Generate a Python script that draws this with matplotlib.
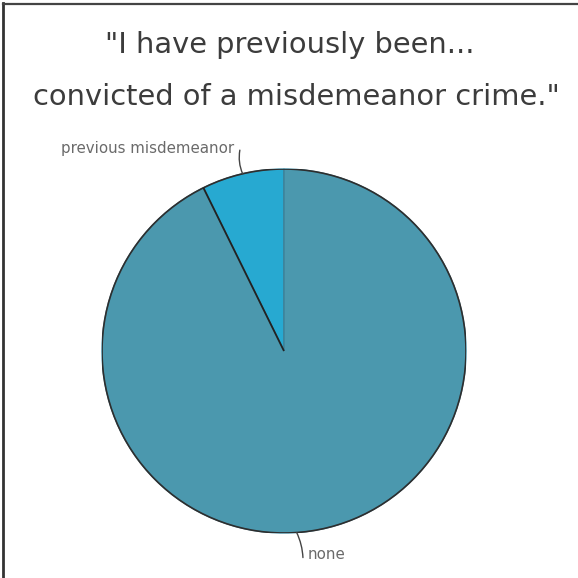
import numpy as np
import matplotlib
matplotlib.use('Agg')
import matplotlib.pyplot as plt

# share of respondents (percent)
labels = ['previous misdemeanor', 'none']
shares = [7.3, 92.7]
colors = ['#27a9d1', '#4b98ae']
title_lines = ['"I have previously been...', 'convicted of a misdemeanor crime."']

W = 578.0
fig = plt.figure(figsize=(5.78, 5.78), dpi=100)
fig.patch.set_facecolor('white')

# pie centred at (284, 351) px, radius 182 px
cx, cy, r = 284.0, 351.0, 182.0
ax = fig.add_axes([(cx - r) / W, (W - cy - r) / W, 2 * r / W, 2 * r / W])
wedges, _ = ax.pie(shares, colors=colors, startangle=90, counterclock=True,
                   radius=1.0,
                   wedgeprops=dict(edgecolor='#3d8299', linewidth=1.0))
ax.set_xlim(-1, 1)
ax.set_ylim(-1, 1)
ax.set_aspect('equal')
ax.axis('off')

# dark rim and dark boundary on the small slice's far side
ax.add_patch(plt.Circle((0, 0), 1.0, fill=False, edgecolor='#2e2e2e', lw=1.2))
a_end = np.deg2rad(90 + shares[0] / 100 * 360)
ax.plot([0, np.cos(a_end)], [0, np.sin(a_end)], color='#222222', lw=1.3,
        solid_capstyle='butt')


def edge(deg, rr=1.0):
    a = np.deg2rad(deg)
    return rr * np.cos(a), rr * np.sin(a)


lab_kw = dict(fontsize=10.8, color='#6a6a6a', textcoords='offset points',
              annotation_clip=False)
line_kw = dict(arrowstyle='-', color='#444444', lw=1.0, shrinkA=0, shrinkB=0)

# leader + label for the small slice
mid0 = 90 + shares[0] / 100 * 360 / 2
p0 = edge(mid0)
ax.annotate('', xy=p0, xytext=(-2, 17), textcoords='offset points',
            arrowprops=dict(connectionstyle='arc3,rad=0.15', **line_kw),
            annotation_clip=False)
ax.annotate(labels[0], xy=p0, xytext=(-6, 18.5), ha='right', va='center', **lab_kw)

# leader + label for "none"
p1 = edge(274)
ax.annotate('', xy=p1, xytext=(4.5, -18), textcoords='offset points',
            arrowprops=dict(connectionstyle='arc3,rad=0.1', **line_kw),
            annotation_clip=False)
ax.annotate(labels[1], xy=p1, xytext=(8, -16), ha='left', va='center', **lab_kw)

fig.text(290 / W, 1 - 45 / W, title_lines[0], ha='center', va='center',
         fontsize=20.8, color='#3c3c3c')
fig.text(296 / W, 1 - 97 / W, title_lines[1], ha='center', va='center',
         fontsize=20.8, color='#3c3c3c')

# frame on the left and top edges
fig.add_artist(plt.Line2D([3 / W, 3 / W], [0, 1 - 3 / W], color='#333333', lw=2))
fig.add_artist(plt.Line2D([3 / W, 1], [1 - 3.5 / W, 1 - 3.5 / W], color='#444444', lw=1.6))

fig.savefig('out.png', dpi=100, facecolor='white')
